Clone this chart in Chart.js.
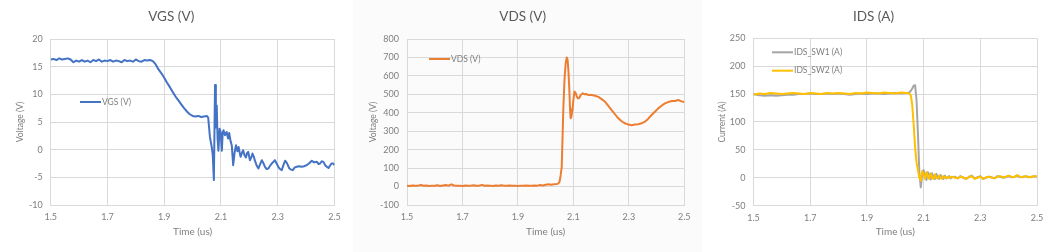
<!DOCTYPE html>
<html>
<head>
<meta charset="utf-8">
<script src="https://cdn.jsdelivr.net/npm/chart.js@4.4.1/dist/chart.umd.min.js"></script>
<style>
  html, body { margin: 0; padding: 0; background: #fff; }
  #wrap { position: relative; width: 1055px; height: 252px; overflow: hidden; }
  .panel { position: absolute; top: 0; height: 252px; }
  #p1 { left: 0; width: 352px; background: #fff; }
  #p2 { left: 353px; width: 349px; background: #fbfbfb; }
  #p3 { left: 702px; width: 353px; background: #fff; }
  canvas { display: block; }
</style>
</head>
<body>
<div id="wrap">
  <div class="panel" id="p1"><canvas id="cVgs" width="352" height="252"></canvas></div>
  <div class="panel" id="p2"><canvas id="cVds" width="349" height="252"></canvas></div>
  <div class="panel" id="p3"><canvas id="cIds" width="353" height="252"></canvas></div>
</div>
<script>
var xTicks = [1.5, 1.7, 1.9, 2.1, 2.3, 2.5];

var vgsTime = [
  1.500, 1.510, 1.520, 1.530, 1.540, 1.550, 1.560, 1.570, 1.580, 1.590,
  1.600, 1.610, 1.620, 1.630, 1.640, 1.650, 1.660, 1.670, 1.680, 1.690,
  1.700, 1.710, 1.720, 1.730, 1.740, 1.750, 1.760, 1.770, 1.780, 1.790,
  1.800, 1.810, 1.820, 1.830, 1.840, 1.850, 1.860, 1.870, 1.880, 1.890,
  1.900, 1.910, 1.920, 1.930, 1.940, 1.950, 1.960, 1.970, 1.980, 1.990,
  2.000, 2.010, 2.020, 2.030, 2.040, 2.050, 2.055, 2.061, 2.068, 2.071,
  2.075, 2.079, 2.082, 2.085, 2.088, 2.091, 2.095, 2.099, 2.103, 2.106,
  2.109, 2.114, 2.120, 2.125, 2.129, 2.134, 2.138, 2.143, 2.148, 2.153,
  2.158, 2.162, 2.169, 2.174, 2.178, 2.183, 2.188, 2.192, 2.196, 2.202,
  2.207, 2.211, 2.216, 2.219, 2.226, 2.232, 2.238, 2.244, 2.250, 2.255,
  2.261, 2.267, 2.273, 2.279, 2.285, 2.290, 2.296, 2.302, 2.308, 2.314,
  2.320, 2.326, 2.332, 2.341, 2.347, 2.353, 2.360, 2.367, 2.375, 2.385,
  2.393, 2.402, 2.410, 2.420, 2.428, 2.438, 2.444, 2.449, 2.455, 2.461,
  2.467, 2.473, 2.479, 2.485, 2.490, 2.496, 2.500
];
var vgsVal = [
  16.3, 16.4, 16.2, 16.5, 16.3, 16.4, 16.5, 16.3, 15.8, 16.1,
  15.9, 16.2, 15.9, 16.1, 15.8, 16.2, 16.0, 16.3, 15.9, 16.1,
  16.0, 16.2, 15.9, 16.1, 16.0, 15.8, 16.2, 16.0, 16.1, 15.9,
  16.3, 16.0, 15.9, 16.2, 16.1, 16.2, 16.0, 15.4, 14.5, 13.8,
  13.0, 12.1, 11.3, 10.4, 9.6, 8.9, 8.2, 7.5, 6.9, 6.4,
  6.1, 6.0, 6.1, 5.9, 6.0, 6.1, 5.8, 2.3, 0.3, -1.0,
  -5.5, 11.7, 4.0, 8.0, 2.0, -0.2, 3.8, 3.2, -0.2, 3.0,
  3.5, 2.6, 3.2, 2.0, 3.0, 1.5, 0.8, -2.8, -0.5, 0.8,
  -0.3, 0.5, -1.3, -0.6, -0.1, -1.0, -1.4, -0.6, -0.4, -1.9,
  -1.4, -0.7, -1.3, -1.9, -2.9, -3.4, -2.6, -1.9, -2.5, -3.1,
  -3.5, -3.4, -2.9, -2.5, -2.2, -1.9, -2.5, -3.1, -3.5, -3.7,
  -2.8, -2.0, -2.4, -3.4, -3.6, -3.7, -3.2, -3.1, -3.0, -3.1,
  -3.0, -2.8, -2.5, -2.0, -2.3, -2.2, -2.6, -2.5, -2.1, -2.2,
  -2.8, -3.1, -3.3, -2.8, -2.5, -2.5, -2.8
];

var vdsTime = [
  1.50, 1.51, 1.52, 1.53, 1.54, 1.55, 1.56, 1.57, 1.58, 1.59,
  1.60, 1.61, 1.62, 1.63, 1.64, 1.65, 1.66, 1.67, 1.68, 1.69,
  1.70, 1.71, 1.72, 1.73, 1.74, 1.75, 1.76, 1.77, 1.78, 1.79,
  1.80, 1.81, 1.82, 1.83, 1.84, 1.85, 1.86, 1.87, 1.88, 1.89,
  1.90, 1.91, 1.92, 1.93, 1.94, 1.95, 1.96, 1.97, 1.98, 1.99,
  2.00, 2.01, 2.02, 2.03, 2.04, 2.045, 2.050, 2.054, 2.058, 2.061,
  2.064, 2.068, 2.072, 2.076, 2.079, 2.082, 2.085, 2.088, 2.090, 2.093,
  2.097, 2.100, 2.104, 2.108, 2.112, 2.116, 2.121, 2.127, 2.134, 2.140,
  2.146, 2.155, 2.166, 2.178, 2.190, 2.202, 2.214, 2.226, 2.238, 2.250,
  2.262, 2.274, 2.286, 2.298, 2.310, 2.322, 2.334, 2.346, 2.358, 2.370,
  2.382, 2.394, 2.406, 2.418, 2.430, 2.442, 2.455, 2.466, 2.478, 2.490,
  2.500
];
var vdsVal = [
  5, 3, 6, 4, 5, 8, 4, 6, 3, 5,
  4, 7, 3, 6, 8, 5, 12, 6, 4, 5,
  3, 6, 4, 5, 7, 4, 5, 9, 4, 6,
  5, 3, 6, 4, 7, 5, 4, 6, 4, 5,
  3, 5, 4, 6, 5, 4, 6, 5, 8, 6,
  10, 12, 10, 13, 14, 16, 25, 60, 107, 270,
  433, 580, 665, 700, 690, 630, 540, 420, 370, 380,
  420, 470, 515, 508, 490, 478, 480, 498, 506, 500,
  502, 496, 496, 492, 486, 474, 460, 438, 415, 392,
  370, 354, 343, 336, 332, 336, 338, 343, 352, 368,
  388, 406, 424, 438, 451, 458, 464, 464, 469, 462,
  458
];

var idsTime = [
  1.50, 1.52, 1.54, 1.56, 1.58, 1.60, 1.62, 1.64, 1.66, 1.68,
  1.70, 1.72, 1.74, 1.76, 1.78, 1.80, 1.82, 1.84, 1.86, 1.88,
  1.90, 1.92, 1.94, 1.96, 1.98, 2.00, 2.02, 2.04,
  2.050, 2.055, 2.060, 2.065, 2.070, 2.075, 2.080, 2.085, 2.090, 2.095,
  2.100, 2.105, 2.110, 2.115, 2.120, 2.125, 2.130, 2.135, 2.140, 2.145,
  2.150, 2.155, 2.160, 2.165, 2.170, 2.175, 2.180, 2.185, 2.190, 2.195,
  2.200,
  2.21, 2.22, 2.23, 2.24, 2.25, 2.26, 2.27, 2.28, 2.29, 2.30,
  2.31, 2.32, 2.33, 2.34, 2.35, 2.36, 2.37, 2.38, 2.39, 2.40,
  2.41, 2.42, 2.43, 2.44, 2.45, 2.46, 2.47, 2.48, 2.49, 2.50
];
var idsSw1 = [
  150, 148, 147, 148, 147, 148, 149, 149, 150, 150,
  151, 150, 150, 151, 150, 151, 150, 149, 150, 151,
  150, 151, 151, 150, 151, 152, 151, 152,
  153, 156, 160, 165, 166, 140, 80, 10, -17, 5,
  14, 3, -4, 10, 6, -3, 8, 2, -2, 7,
  0, -2, 5, 1, -2, 4, -1, 0, 3, -1,
  1,
  2, -1, 3, 0, -2, 2, 4, -1, 1, 3,
  -2, 0, 2, 1, -1, 3, 2, 0, 1, 3,
  1, 2, 4, 1, 2, 3, 1, 2, 3, 2
];
var idsSw2 = [
  149, 151, 150, 152, 151, 150, 151, 152, 151, 150,
  152, 151, 150, 152, 151, 152, 151, 150, 152, 151,
  153, 152, 151, 153, 152, 151, 153, 152,
  151, 148, 130, 95, 55, 28, 14, 0, -5, 12,
  6, -2, 10, 3, -2, 8, 1, -2, 6, 0,
  -1, 4, 0, -2, 3, 1, -1, 2, 0, 1,
  2,
  0, -1, 2, 1, -2, 1, 3, -2, 0, 2,
  -2, 1, 2, 0, -1, 2, 3, 1, 2, 4,
  2, 1, 5, 2, 1, 3, 2, 1, 3, 3
];

// ---- helpers ----
var FONT = 'Lato, "Open Sans", sans-serif';
var GRID = '#d9d9d9';
var TXT = '#7f7f7f';

function toPoints(t, v) {
  return t.map(function (x, i) { return { x: x, y: v[i] }; });
}

// legend sits inside the plot, like the Excel original
var inlineLegend = {
  id: 'inlineLegend',
  afterDraw: function (chart, args, opts) {
    var ctx = chart.ctx;
    ctx.save();
    ctx.font = '8.5px ' + FONT;
    ctx.textBaseline = 'middle';
    ctx.textAlign = 'left';
    chart.data.datasets.forEach(function (ds, i) {
      var y = opts.y + i * opts.gap;
      ctx.strokeStyle = ds.borderColor;
      ctx.lineWidth = 2;
      ctx.beginPath();
      ctx.moveTo(opts.x, y);
      ctx.lineTo(opts.x + 21, y);
      ctx.stroke();
      ctx.fillStyle = TXT;
      ctx.fillText(ds.label, opts.x + 22, y);
    });
    ctx.restore();
  }
};

function buildOptions(p) {
  var padTop = 9;
  var padBottom = 5;
  return {
    responsive: false,
    animation: false,
    layout: { padding: { top: padTop, left: 8, right: p.width - p.plotRight, bottom: padBottom } },
    plugins: {
      legend: { display: false },
      tooltip: { enabled: false },
      title: {
        display: true, text: p.title, color: '#595959',
        font: { family: FONT, size: 13.5, weight: 'normal' },
        padding: { top: 0, bottom: p.plotTop - padTop - 16.2 }
      },
      inlineLegend: { x: p.legX, y: p.legY, gap: 18.4 }
    },
    elements: {
      point: { radius: 0 },
      line: { borderWidth: 2, tension: 0, borderJoinStyle: 'round' }
    },
    scales: {
      x: {
        type: 'linear', min: 1.5, max: 2.5,
        afterBuildTicks: function (s) { s.ticks = xTicks.map(function (v) { return { value: v }; }); },
        afterFit: function (s) { s.height = 252 - padBottom - p.plotBottom; },
        ticks: {
          color: TXT, font: { family: FONT, size: 9 }, padding: 7, maxRotation: 0,
          callback: function (v) { return v.toFixed(1); }
        },
        grid: { color: GRID, drawTicks: false },
        border: { color: GRID },
        title: {
          display: true, text: 'Time (us)', color: TXT,
          font: { family: FONT, size: 10 }, padding: { top: 0, bottom: 9 }
        }
      },
      y: {
        min: p.yMin, max: p.yMax,
        afterFit: function (s) { s.width = p.plotLeft - 8; },
        ticks: { stepSize: p.yStep, color: TXT, font: { family: FONT, size: 9 }, padding: 8 },
        grid: { color: GRID, drawTicks: false },
        border: { color: GRID },
        title: {
          display: true, text: p.yTitle, color: TXT,
          font: { family: FONT, size: 8.5 }, padding: { top: 7.4, bottom: 0 }
        }
      }
    }
  };
}

new Chart(document.getElementById('cVgs'), {
  type: 'line',
  data: {
    datasets: [{ label: 'VGS (V)', data: toPoints(vgsTime, vgsVal), borderColor: '#4472c4' }]
  },
  options: buildOptions({
    title: 'VGS (V)', yTitle: 'Voltage (V)', yMin: -10, yMax: 20, yStep: 5,
    width: 352, plotLeft: 50.7, plotRight: 334.5, plotTop: 39, plotBottom: 205,
    legX: 80, legY: 102
  }),
  plugins: [inlineLegend]
});

new Chart(document.getElementById('cVds'), {
  type: 'line',
  data: {
    datasets: [{ label: 'VDS (V)', data: toPoints(vdsTime, vdsVal), borderColor: '#ed7d31' }]
  },
  options: buildOptions({
    title: 'VDS (V)', yTitle: 'Voltage (V)', yMin: -100, yMax: 800, yStep: 100,
    width: 349, plotLeft: 54, plotRight: 331.3, plotTop: 39, plotBottom: 205,
    legX: 76, legY: 59
  }),
  plugins: [inlineLegend]
});

new Chart(document.getElementById('cIds'), {
  type: 'line',
  data: {
    datasets: [
      { label: 'IDS_SW1 (A)', data: toPoints(idsTime, idsSw1), borderColor: '#a5a5a5', order: 1 },
      { label: 'IDS_SW2 (A)', data: toPoints(idsTime, idsSw2), borderColor: '#ffc000', order: 0 }
    ]
  },
  options: buildOptions({
    title: 'IDS (A)', yTitle: 'Current (A)', yMin: -50, yMax: 250, yStep: 50,
    width: 353, plotLeft: 51.5, plotRight: 335, plotTop: 38.3, plotBottom: 205.7,
    legX: 70, legY: 52.3
  }),
  plugins: [inlineLegend]
});
</script>
</body>
</html>
